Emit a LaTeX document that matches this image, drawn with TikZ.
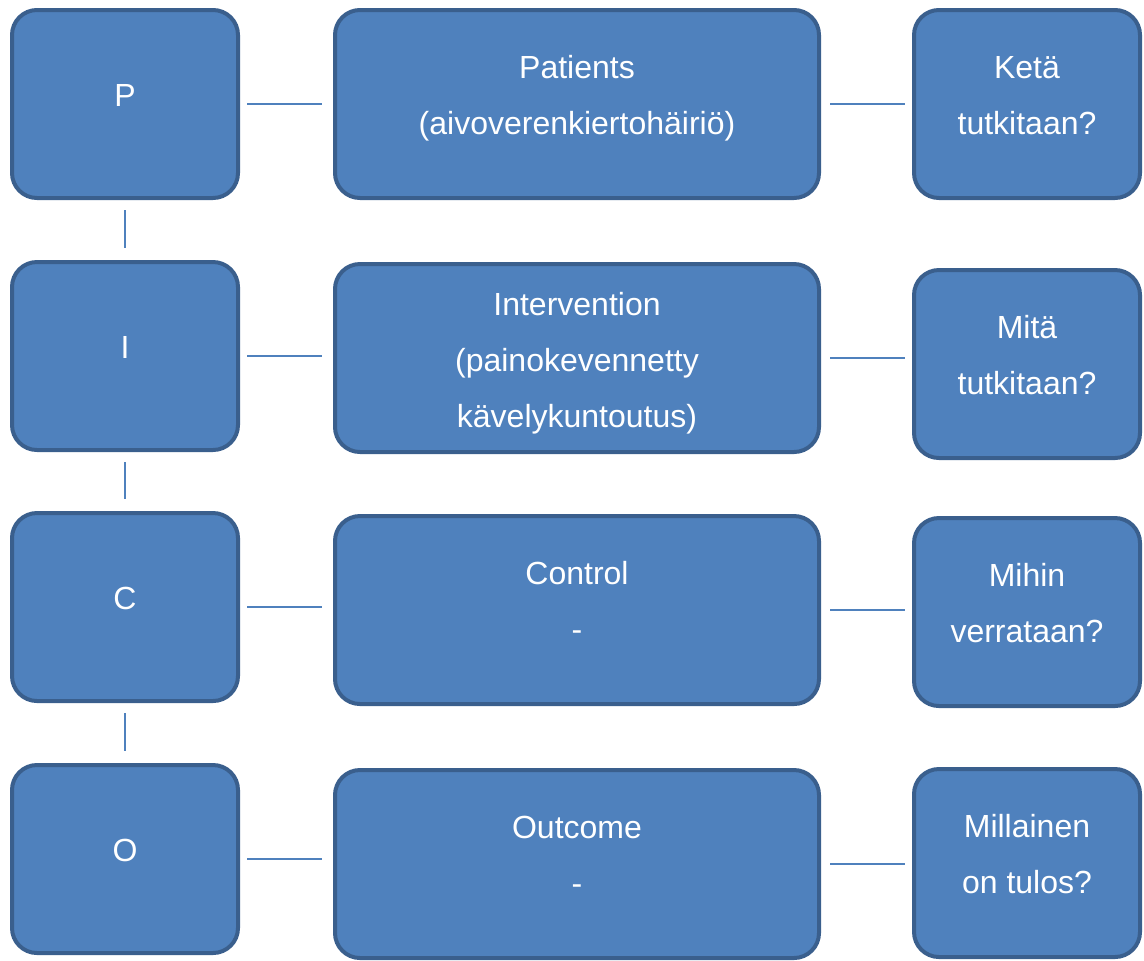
\documentclass[tikz,border=0pt]{standalone}
\usepackage{fontspec}
\setmainfont{Liberation Sans}

\definecolor{boxfill}{HTML}{4F81BD}
\definecolor{boxline}{HTML}{3A5F8D}

\begin{document}
\begin{tikzpicture}[x=0.5pt, y=-0.5pt,
  box/.style={draw=boxline, fill=boxfill, line width=2pt, rounded corners=12.5pt,
    text=white, align=center, font=\fontsize{16}{28}\selectfont,
    minimum height=94pt, inner sep=0pt},
  lift/.style={execute at end node={\rule[-9pt]{0pt}{9pt}}},
  letterbox/.style={box, lift, minimum width=113pt},
  widebox/.style={box, minimum width=242pt},
  link/.style={draw=boxfill, line width=1pt},
]
  \useasboundingbox (0,0) rectangle (1144,960);
  % PICO-kirjaimet
  \node[letterbox] (P) at (125,104) {P};
  \node[letterbox] (I) at (125,356) {I};
  \node[letterbox] (C) at (125,607) {C};
  \node[letterbox] (O) at (125,859) {O};
  % selitykset
  \node[widebox, lift] (Pt) at (577,104) {Patients\\(aivoverenkiertohäiriö)};
  \node[widebox] (It) at (577,358) {\rule{0pt}{17pt}Intervention\\(painokevennetty\\kävelykuntoutus)};
  \node[widebox, lift] (Ct) at (577,610) {Control\\-};
  \node[widebox, lift] (Ot) at (577,864) {Outcome\\-};
  % kysymykset
  \node[letterbox] (Pq) at (1027,104) {Ketä\\tutkitaan?};
  \node[letterbox] (Iq) at (1027,364) {Mitä\\tutkitaan?};
  \node[letterbox] (Cq) at (1027,612) {Mihin\\verrataan?};
  \node[letterbox] (Oq) at (1027,863) {Millainen\\on tulos?};
  % pystyviivat
  \foreach \a/\b in {P/I, I/C, C/O}
    \draw[link, shorten <=5pt, shorten >=6pt] (\a.south) -- (\b.north);
  % vaakaviivat
  \foreach \r in {P,I,C,O} {
    \draw[link, shorten <=3.5pt, shorten >=5.5pt] (\r.east) -- (\r.east -| \r t.west);
    \draw[link, shorten <=4.5pt, shorten >=3.5pt] (\r t.east) -- (\r t.east -| \r q.west);
  }
\end{tikzpicture}
\end{document}
